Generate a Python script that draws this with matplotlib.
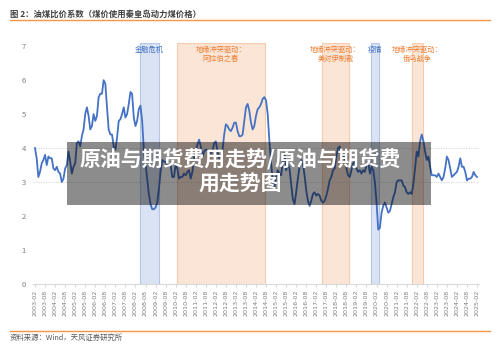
import matplotlib
matplotlib.use("Agg")
import matplotlib.pyplot as plt
from matplotlib.patches import Rectangle
import numpy as np

plt.rcParams['font.family'] = ['Noto Sans CJK SC', 'DejaVu Sans']

# 油煤比价系数，月度，2003-02 至 2025-02
ratio = [
    4.0, 3.7, 3.15, 3.3, 3.55, 3.65, 3.8, 3.5, 3.75, 3.7, 3.7, 3.4,
    3.35, 3.45, 3.3, 3.25, 3.0, 3.1, 3.4, 3.5, 3.9, 3.6, 3.25, 3.45,
    3.55, 4.15, 4.2, 4.05, 4.35, 4.55, 5.0, 5.2, 4.95, 4.55, 4.65, 5.0,
    4.8, 4.95, 5.5, 5.6, 5.6, 6.0, 5.9, 5.2, 4.55, 4.4, 4.4, 4.05,
    3.95, 4.3, 4.8, 4.85, 5.0, 5.2, 4.9, 5.0, 5.3, 5.65, 5.6, 4.9,
    4.65, 4.8, 5.15, 5.25, 4.8, 3.95, 3.55, 3.1, 2.65, 2.35, 2.2, 2.2,
    2.25, 2.4, 2.8, 3.3, 3.65, 3.6, 3.6, 3.5, 3.5, 3.5, 3.15, 3.15,
    3.5, 3.4, 3.1, 3.15, 3.15, 3.25, 3.2, 3.3, 3.35, 3.1, 3.3, 3.7,
    3.9, 4.1, 4.25, 4.05, 3.75, 3.9, 3.95, 3.95, 3.9, 3.85, 3.9, 4.15,
    4.2, 3.9, 3.7, 3.8, 3.95, 4.4, 4.7, 4.65, 4.55, 4.5, 4.6, 4.75,
    4.75, 4.5, 4.35, 4.35, 4.4, 4.8, 5.2, 5.3, 5.1, 4.75, 4.55, 4.65,
    4.95, 5.15, 5.2, 5.3, 5.45, 5.5, 5.4, 5.0, 4.2, 3.55, 3.05, 2.85,
    3.15, 3.35, 3.25, 3.2, 3.6, 3.85, 3.35, 3.55, 3.4, 2.95, 2.5, 2.35,
    2.7, 3.1, 3.45, 3.65, 3.55, 3.2, 2.75, 2.45, 2.3, 2.45, 2.65, 2.7,
    2.6, 2.65, 2.6, 2.45, 2.4, 2.45, 2.6, 2.8, 3.05, 3.15, 3.35, 3.4,
    3.75, 4.0, 4.05, 3.7, 3.8, 3.7, 3.4, 3.2, 3.15, 3.35, 3.55, 3.6,
    3.4, 3.3, 3.35, 3.25, 3.35, 3.3, 3.5, 3.6, 3.25, 3.45, 3.35, 3.0,
    2.4, 1.6, 1.65, 2.1, 2.3, 2.4, 2.25, 2.1, 2.15, 2.35, 2.55, 2.7,
    3.0, 3.05, 3.05, 3.05, 2.9, 2.85, 2.7, 2.65, 2.7, 2.65, 2.95, 3.4,
    3.9, 3.75, 4.2, 4.4, 4.2, 3.9, 3.65, 3.75, 3.45, 3.2, 3.2, 3.2,
    3.15, 3.25, 3.15, 3.05, 3.15, 3.4, 3.75, 3.65, 3.4, 3.15, 3.2, 3.25,
    3.3, 3.45, 3.7, 3.45, 3.45, 3.3, 3.05, 3.1, 3.1, 3.15, 3.3, 3.2,
    3.15,
]
months = np.arange(len(ratio))  # 0 = 2003-02

# 每半年一个刻度
tick_pos = list(range(0, len(ratio), 6))
tick_labels = [f"{2003 + (p + 1) // 12}-{'02' if p % 12 == 0 else '08'}" for p in tick_pos]

# 事件区间（月序号起止）
band_start = [62.9, 85.0, 171.5, 200.7, 225.2]
band_end = [74.0, 137.1, 187.4, 205.3, 231.6]
band_kind = ['crisis', 'geo', 'geo', 'crisis', 'geo']
band_text = ['金融危机', '地缘冲突驱动：\n阿拉伯之春', '地缘冲突驱动：\n美对伊制裁',
             '疫情', '地缘冲突驱动：\n俄乌战争']

blue = '#4472C4'
orange = '#ED7D31'
fill = {'crisis': '#DAE3F3', 'geo': '#FBE5D6'}
edge = {'crisis': '#B4C7E7', 'geo': '#F8CBAD'}
txt_col = {'crisis': blue, 'geo': orange}

fig = plt.figure(figsize=(5, 3.48), dpi=100)
ax = fig.add_axes([0.066, 0.184, 0.892, 0.693])

for s, e, k, t in zip(band_start, band_end, band_kind, band_text):
    ax.axvspan(s, e, facecolor=fill[k], edgecolor=edge[k], linewidth=0.8, zorder=1)
    ax.text((s + e) / 2, 7.02, t, ha='center', va='top', fontsize=5.2,
            color=txt_col[k], linespacing=1.3, zorder=3)

for h in [3, 4]:
    ax.axhline(h, color='#D0D0D0', linestyle=(0, (1.5, 1.5)), linewidth=0.6, zorder=1.5)

ax.plot(months, ratio, color=blue, linewidth=1.3, zorder=2)

ax.set_xlim(-1.2, 265.2)
ax.set_ylim(0, 7.1)
ax.set_yticks(range(0, 8))
ax.set_xticks(tick_pos)
ax.set_xticklabels(tick_labels, rotation=90, fontsize=4.6, color='#7F7F7F',
                   family='DejaVu Sans')
ax.tick_params(axis='y', length=0, labelsize=5.5, labelcolor='#7F7F7F', pad=5)
ax.tick_params(axis='x', length=2, color='#D9D9D9', pad=2)
for sp in ['top', 'right', 'left']:
    ax.spines[sp].set_visible(False)
ax.spines['bottom'].set_color('#D9D9D9')

# 标题与来源
fig.text(0.02, 0.972, '图 2：油煤比价系数（煤价使用秦皇岛动力煤价格）', fontsize=6,
         color='#404040', fontweight='bold', va='top')
fig.add_artist(plt.Line2D([0.02, 0.98], [0.942, 0.942], color='#F79646', linewidth=1))
fig.add_artist(plt.Line2D([0.02, 0.98], [0.050, 0.050], color='#F79646', linewidth=1))
fig.text(0.02, 0.028, '资料来源：Wind，天风证券研究所', fontsize=5.3, color='#595959', va='center')

# 水印
fig.add_artist(Rectangle((0.134, 0.411), 0.728, 0.181, transform=fig.transFigure,
                         facecolor='black', alpha=0.45, edgecolor='none', zorder=5))
fig.text(0.48, 0.54, '原油与期货费用走势/原油与期货费', fontsize=15, color='white',
         fontweight='bold', ha='center', va='center', zorder=6)
fig.text(0.48, 0.47, '用走势图', fontsize=15, color='white',
         fontweight='bold', ha='center', va='center', zorder=6)

fig.savefig('out.png', dpi=100)
